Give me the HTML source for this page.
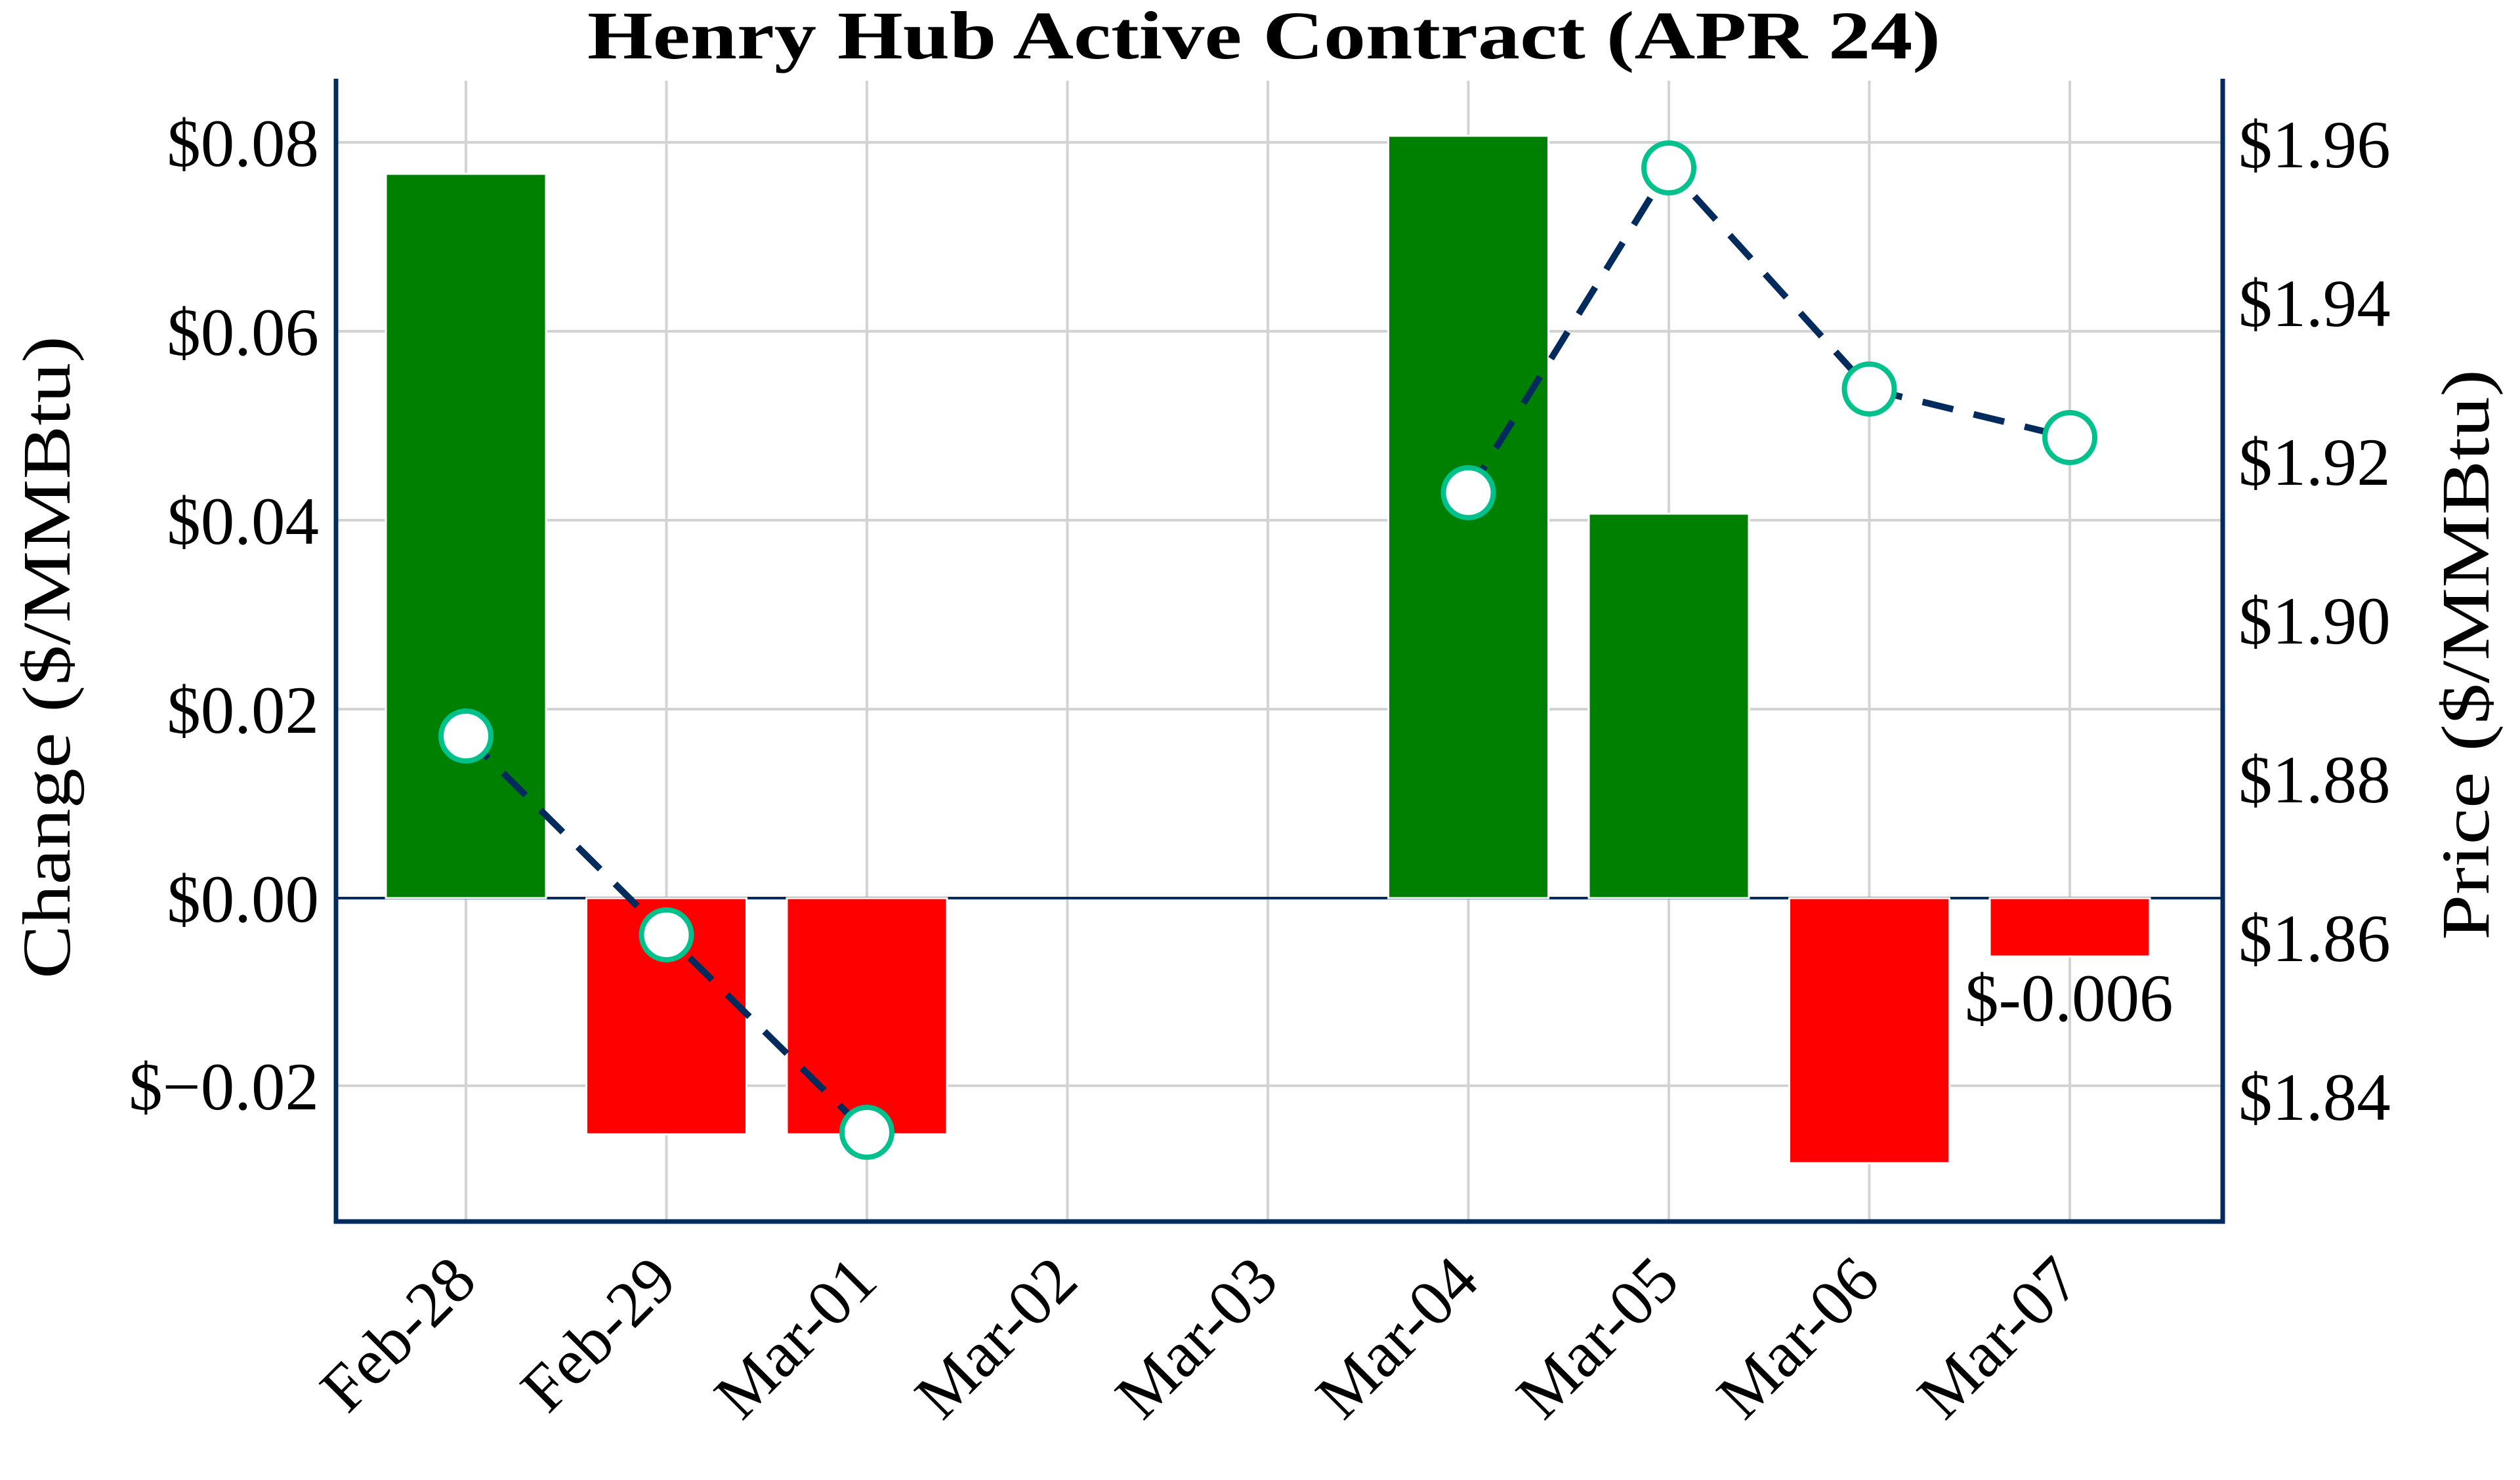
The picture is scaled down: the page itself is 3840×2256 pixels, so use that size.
<!DOCTYPE html>
<html><head><meta charset="utf-8"><style>html,body{margin:0;padding:0;background:#fff}svg{display:block}</style></head><body>
<svg width="3840" height="2256" viewBox="0 0 3840 2256" xmlns="http://www.w3.org/2000/svg" font-family="Liberation Serif, serif">
<rect width="3840" height="2256" fill="#fff"/>
<g stroke="#d3d3d3" stroke-width="4">
<line x1="710" y1="123" x2="710" y2="1859"/><line x1="1015.5" y1="123" x2="1015.5" y2="1859"/><line x1="1321" y1="123" x2="1321" y2="1859"/><line x1="1626.5" y1="123" x2="1626.5" y2="1859"/><line x1="1932" y1="123" x2="1932" y2="1859"/><line x1="2237.5" y1="123" x2="2237.5" y2="1859"/><line x1="2543" y1="123" x2="2543" y2="1859"/><line x1="2848.5" y1="123" x2="2848.5" y2="1859"/><line x1="3154" y1="123" x2="3154" y2="1859"/>
<line x1="512" y1="217" x2="3387" y2="217"/><line x1="512" y1="505" x2="3387" y2="505"/><line x1="512" y1="793" x2="3387" y2="793"/><line x1="512" y1="1081" x2="3387" y2="1081"/><line x1="512" y1="1655" x2="3387" y2="1655"/>
</g>
<line x1="512" y1="1369" x2="3387" y2="1369" stroke="#002b5c" stroke-width="4"/>
<g stroke="#fff" stroke-width="3">
<rect x="588" y="265" width="244" height="1104" fill="#008000"/>
<rect x="893.5" y="1369" width="244" height="360" fill="#ff0000"/>
<rect x="1199" y="1369" width="244" height="360" fill="#ff0000"/>
<rect x="2115.5" y="207" width="244" height="1162" fill="#008000"/>
<rect x="2421" y="783" width="244" height="586" fill="#008000"/>
<rect x="2726.5" y="1369" width="244" height="404" fill="#ff0000"/>
<rect x="3032" y="1369" width="244" height="89" fill="#ff0000"/>
</g>
<polyline points="710,1122 1015.5,1425 1321,1726" fill="none" stroke="#002b5c" stroke-width="10" stroke-dasharray="48,32"/>
<polyline points="2237.5,751 2543,256 2848.5,593 3154,667" fill="none" stroke="#002b5c" stroke-width="10" stroke-dasharray="48,32"/>
<g fill="#fff" stroke="#00c08b" stroke-width="8">
<circle cx="710" cy="1122" r="38"/><circle cx="1015.5" cy="1425" r="38"/><circle cx="1321" cy="1726" r="38"/><circle cx="2237.5" cy="751" r="38"/><circle cx="2543" cy="256" r="38"/><circle cx="2848.5" cy="593" r="38"/><circle cx="3154" cy="667" r="38"/>
</g>
<g stroke="#002b5c" stroke-width="7" fill="none">
<polyline points="512,120 512,1862 3387,1862 3387,120"/>
</g>
<g font-size="103" text-anchor="end" fill="#000">
<text x="486" y="253">$0.08</text><text x="486" y="541">$0.06</text><text x="486" y="829">$0.04</text><text x="486" y="1117">$0.02</text><text x="486" y="1405">$0.00</text><text x="486" y="1691">$−0.02</text>
</g>
<g font-size="103" fill="#000">
<text x="3411" y="255">$1.96</text><text x="3411" y="497">$1.94</text><text x="3411" y="739">$1.92</text><text x="3411" y="981">$1.90</text><text x="3411" y="1223">$1.88</text><text x="3411" y="1465">$1.86</text><text x="3411" y="1707">$1.84</text>
<text x="2994" y="1556">$-0.006</text>
</g>
<g font-size="100" text-anchor="end" fill="#000">
<text transform="translate(730,1957) rotate(-45)">Feb-28</text>
<text transform="translate(1035.5,1957) rotate(-45)">Feb-29</text>
<text transform="translate(1341,1957) rotate(-45)">Mar-01</text>
<text transform="translate(1646.5,1957) rotate(-45)">Mar-02</text>
<text transform="translate(1952,1957) rotate(-45)">Mar-03</text>
<text transform="translate(2257.5,1957) rotate(-45)">Mar-04</text>
<text transform="translate(2563,1957) rotate(-45)">Mar-05</text>
<text transform="translate(2868.5,1957) rotate(-45)">Mar-06</text>
<text transform="translate(3174,1957) rotate(-45)">Mar-07</text>
</g>
<text x="1926" y="89" font-size="104" font-weight="bold" text-anchor="middle" textLength="2062" lengthAdjust="spacingAndGlyphs">Henry Hub Active Contract (APR 24)</text>
<text transform="translate(106,1002) rotate(-90)" font-size="104" text-anchor="middle" textLength="980" lengthAdjust="spacingAndGlyphs">Change ($/MMBtu)</text>
<text transform="translate(3792,998) rotate(-90)" font-size="104" text-anchor="middle" textLength="870" lengthAdjust="spacingAndGlyphs">Price ($/MMBtu)</text>
</svg>
</body></html>
